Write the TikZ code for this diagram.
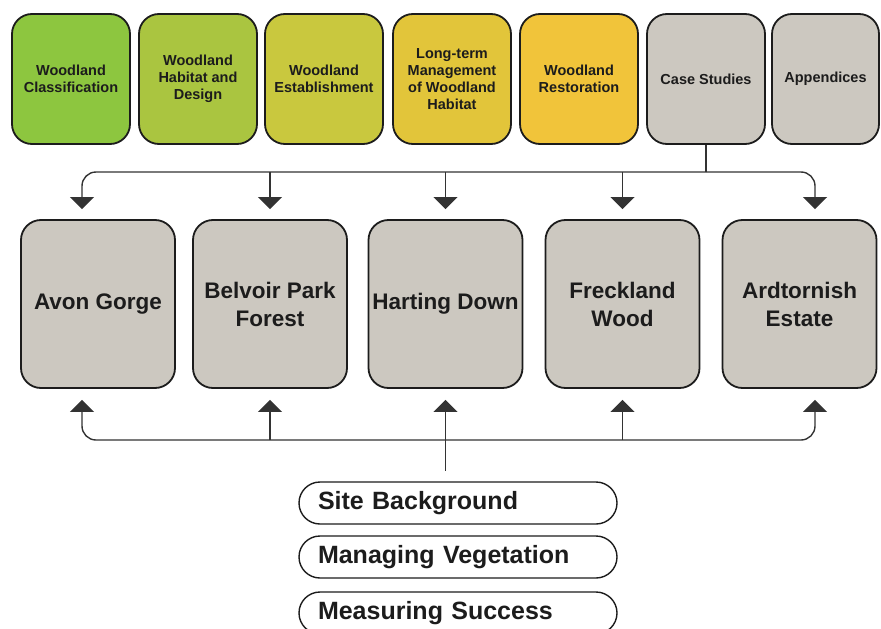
\documentclass[tikz,border=0pt]{standalone}
\usepackage{fontspec}
\setmainfont{Liberation Sans}
\usetikzlibrary{arrows.meta,calc}

\definecolor{cGreen}{HTML}{8DC63F}
\definecolor{cLime}{HTML}{AAC540}
\definecolor{cOlive}{HTML}{C9C83E}
\definecolor{cGold}{HTML}{E2C53A}
\definecolor{cAmber}{HTML}{F1C43A}
\definecolor{cStone}{HTML}{CCC8C0}
\definecolor{cInk}{HTML}{1C1C1C}
\definecolor{cLine}{HTML}{333333}

\tikzset{
  chapter/.style={draw=cInk, line width=1.8pt, rounded corners=20pt,
    minimum width=118pt, minimum height=130pt, inner sep=1pt,
    align=center, text=cInk, font=\fontsize{14.5}{17}\selectfont\bfseries},
  study/.style={draw=cInk, line width=1.8pt, rounded corners=20pt, fill=cStone,
    minimum width=154pt, minimum height=168pt, inner sep=1pt,
    align=center, text=cInk, font=\fontsize{22.5}{28}\selectfont\bfseries},
  topic/.style={draw=cInk, line width=1.4pt, rounded corners=21pt,
    minimum width=318pt, minimum height=42pt, text width=280pt,
    align=left, text=cInk, font=\fontsize{25}{28}\selectfont\bfseries},
  conn/.style={draw=cLine, line width=1.4pt},
  tip/.style={conn, -{Triangle[width=24pt,length=12pt]}},
}

\begin{document}
\begin{tikzpicture}[x=1pt,y=-1pt]
  \useasboundingbox (0,0) rectangle (881,629);

  % chapter row
  \node[chapter, fill=cGreen] (t1) at (71,79)   {Woodland\\Classification};
  \node[chapter, fill=cLime]  (t2) at (198,79)  {Woodland\\Habitat and\\Design};
  \node[chapter, fill=cOlive] (t3) at (324,79)  {Woodland\\Establishment};
  \node[chapter, fill=cGold]  (t4) at (452,79)  {Long-term\\Management\\of Woodland\\Habitat};
  \node[chapter, fill=cAmber] (t5) at (579,79)  {Woodland\\Restoration};
  \node[chapter, fill=cStone] (t6) at (706,79)  {Case Studies};
  \node[chapter, fill=cStone, minimum width=107pt] (t7) at (825.5,79) {Appendices};

  % case study sites
  \node[study] (m1) at (98,304)    {Avon Gorge};
  \node[study] (m2) at (270,304)   {Belvoir Park\\Forest};
  \node[study] (m3) at (445.5,304) {Harting Down};
  \node[study] (m4) at (622.5,304) {Freckland\\Wood};
  \node[study] (m5) at (799.5,304) {Ardtornish\\Estate};

  % shared sections of every case study
  \node[topic] (p1) at (458,503) {Site Background};
  \node[topic] (p2) at (458,557) {Managing Vegetation};
  \node[topic] (p3) at (458,613) {Measuring Success};

  % distribution bus from Case Studies
  \coordinate (hub) at (706,172);
  \draw[conn] (t6.south) -- (hub);
  \draw[tip, rounded corners=14pt] (hub) -| ($(m1.north)+(-16,-10)$);
  \draw[tip, rounded corners=14pt] (hub) -| ($(m5.north)+(15.5,-10)$);
  \draw[tip] (m2.north |- hub) -- ($(m2.north)+(0,-10)$);
  \draw[tip] (m3.north |- hub) -- ($(m3.north)+(0,-10)$);
  \draw[tip] (m4.north |- hub) -- ($(m4.north)+(0,-10)$);

  % collection bus from the section list
  \coordinate (hub2) at (m3.south |- 0,440);
  \draw[conn] (hub2) -- ($(hub2 |- p1.north)+(0,-10)$);
  \draw[tip, rounded corners=14pt] (hub2) -| ($(m1.south)+(-16,11)$);
  \draw[tip, rounded corners=14pt] (hub2) -| ($(m5.south)+(15.5,11)$);
  \draw[tip] (m2.south |- hub2) -- ($(m2.south)+(0,11)$);
  \draw[tip] (hub2) -- ($(m3.south)+(0,11)$);
  \draw[tip] (m4.south |- hub2) -- ($(m4.south)+(0,11)$);
\end{tikzpicture}
\end{document}
